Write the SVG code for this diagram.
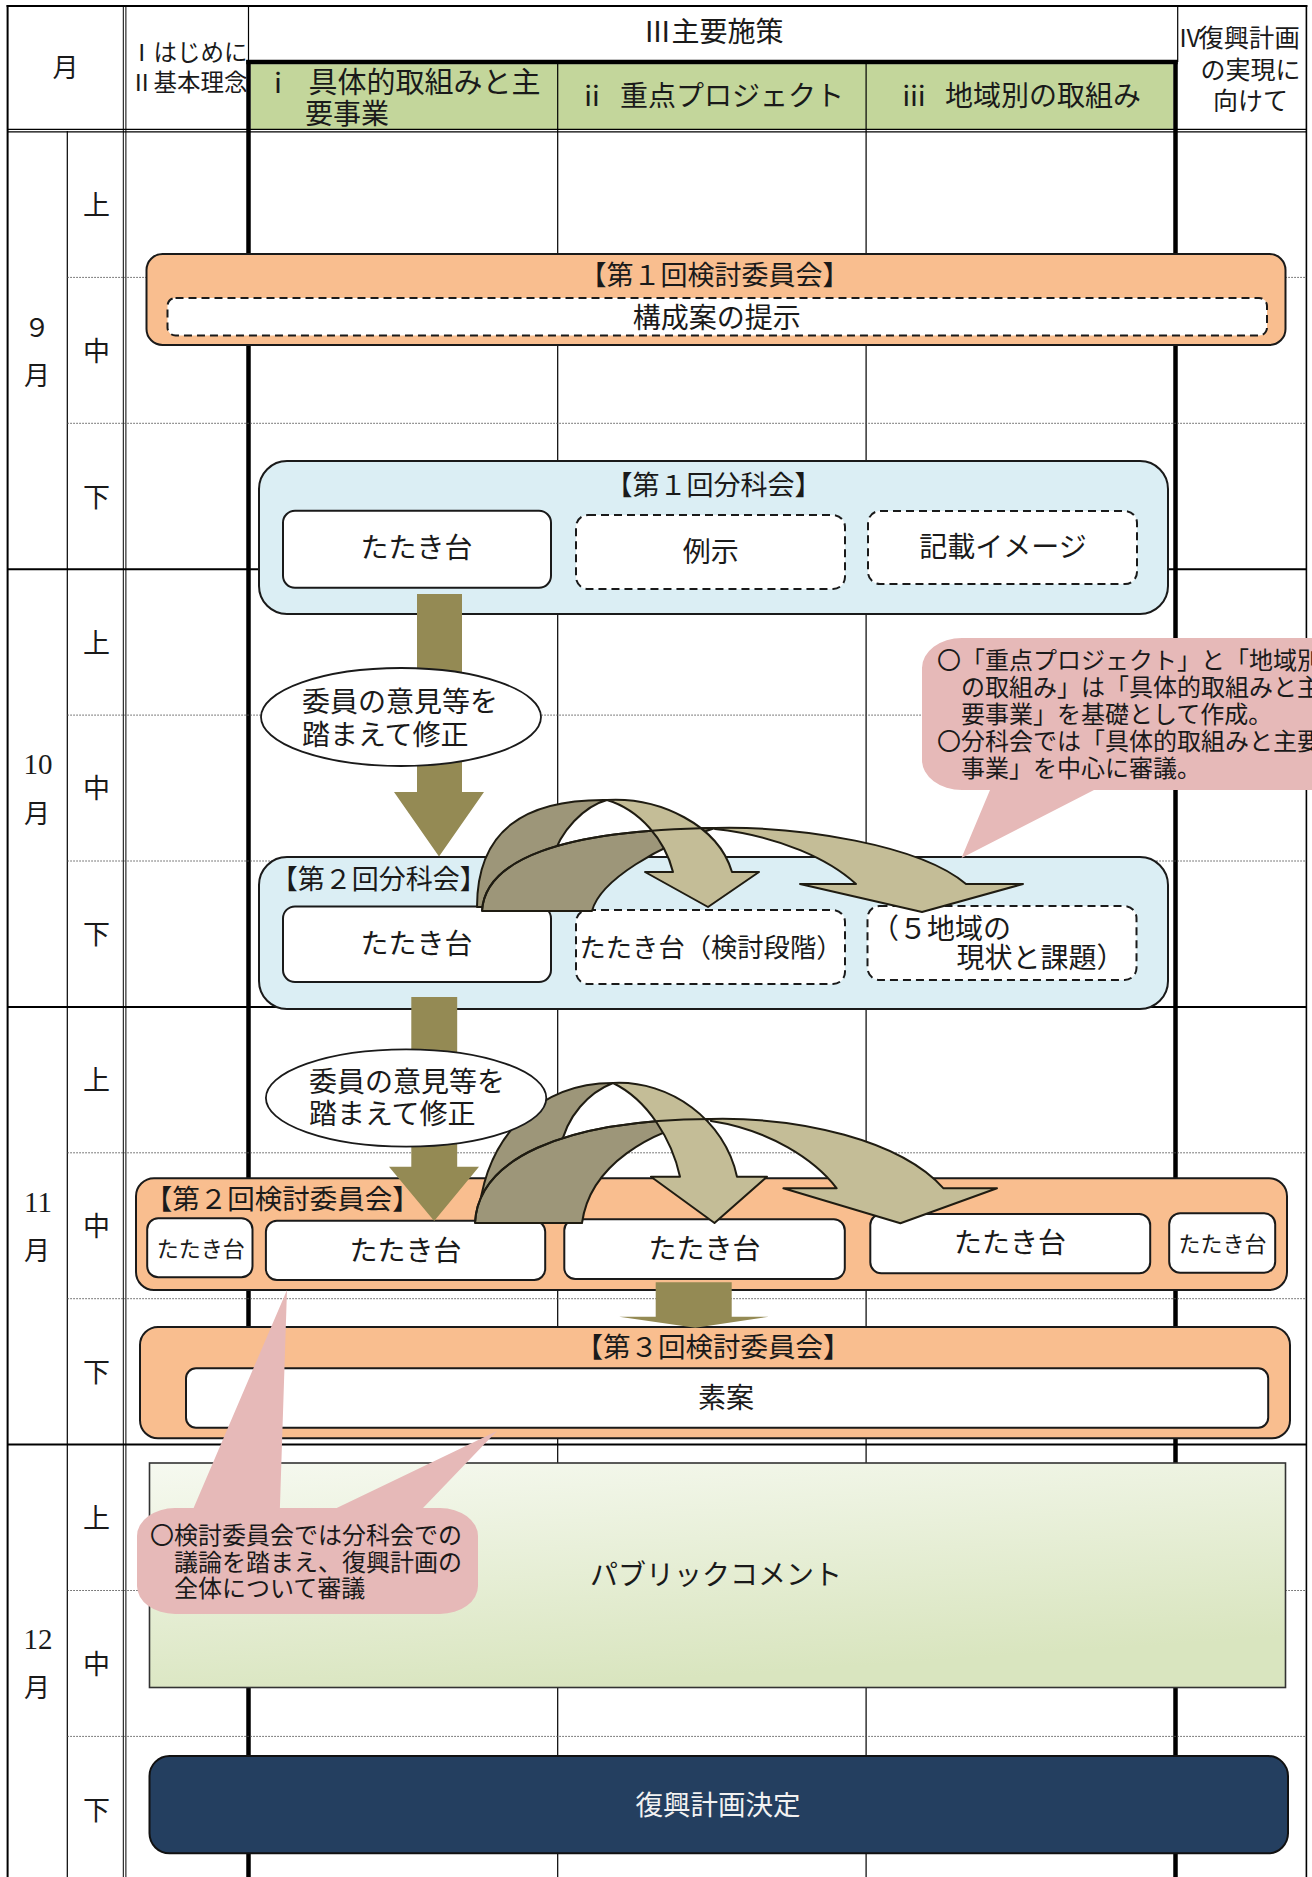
<svg xmlns="http://www.w3.org/2000/svg" width="1312" height="1877" viewBox="0 0 1312 1877">
<defs>
<style>
.t{font-family:"Noto Sans CJK JP","Noto Sans",sans-serif;fill:#1a1a1a}
.ser{font-family:"Liberation Serif","Noto Sans CJK JP",serif;fill:#1a1a1a}
.m{text-anchor:middle}
.ln{stroke:#000;stroke-width:1.2;fill:none}
.thk{stroke:#000;stroke-width:4.5;fill:none}
.mon{stroke:#000;stroke-width:2;fill:none}
.dot{stroke:#555;stroke-width:1;stroke-dasharray:1.5 1.5;fill:none}
.orange{fill:#f9be8f;stroke:#1a1a1a;stroke-width:2}
.blue{fill:#dbeef4;stroke:#1a1a1a;stroke-width:2}
.wbox{fill:#fff;stroke:#1a1a1a;stroke-width:2}
.dash{fill:#fff;stroke:#1a1a1a;stroke-width:2;stroke-dasharray:8 5}
.olive{fill:#948a54}
.cdark{fill:#9d9679;stroke:#1f1c12;stroke-width:2;stroke-linejoin:round}
.clight{fill:#c4bd97;stroke:#1f1c12;stroke-width:2;stroke-linejoin:round}
.cedge{fill:none;stroke:#1f1c12;stroke-width:2}
.pink{fill:#e6b9b8}
.ell{fill:#fff;stroke:#1a1a1a;stroke-width:1.8}
</style>
<linearGradient id="pcg" x1="0" y1="0" x2="0.35" y2="1">
<stop offset="0" stop-color="#f6f9f0"/>
<stop offset="1" stop-color="#d9e5bf"/>
</linearGradient>
</defs>
<rect width="1312" height="1877" fill="#fff"/>

<g id="grid">
<rect x="250.7" y="64.2" width="922.6" height="65" fill="#c3d69b"/>
<line class="mon" x1="6.6" y1="6" x2="1307.4" y2="6"/>
<line class="mon" x1="7.6" y1="5" x2="7.6" y2="1877"/>
<line class="ln" x1="1306.4" y1="5" x2="1306.4" y2="1877" style="stroke-width:1.6"/>
<line class="ln" x1="123.3" y1="6" x2="123.3" y2="1877" style="stroke-width:1"/>
<line class="ln" x1="125.9" y1="6" x2="125.9" y2="1877" style="stroke-width:1"/>
<line class="ln" x1="67.3" y1="131" x2="67.3" y2="1877"/>
<line class="ln" x1="248.5" y1="6" x2="248.5" y2="62"/>
<line class="thk" x1="248.5" y1="60" x2="248.5" y2="1877"/>
<line class="ln" x1="557.7" y1="62" x2="557.7" y2="1877"/>
<line class="ln" x1="866.1" y1="62" x2="866.1" y2="1877"/>
<line class="ln" x1="1177.7" y1="6" x2="1177.7" y2="62"/>
<line class="thk" x1="1175.5" y1="60" x2="1175.5" y2="1877"/>
<line class="thk" x1="246.3" y1="62" x2="1177.7" y2="62"/>
<line class="ln" x1="7.6" y1="129.3" x2="1306.4" y2="129.3"/>
<line class="ln" x1="7.6" y1="131.9" x2="1306.4" y2="131.9"/>
<line class="mon" x1="7.6" y1="569.2" x2="1306.4" y2="569.2"/>
<line class="mon" x1="7.6" y1="1006.9" x2="1306.4" y2="1006.9"/>
<line class="mon" x1="7.6" y1="1444.6" x2="1306.4" y2="1444.6"/>
<line class="dot" x1="67.3" y1="277.4" x2="1306.4" y2="277.4"/>
<line class="dot" x1="67.3" y1="423.3" x2="1306.4" y2="423.3"/>
<line class="dot" x1="67.3" y1="715.1" x2="1306.4" y2="715.1"/>
<line class="dot" x1="67.3" y1="861" x2="1306.4" y2="861"/>
<line class="dot" x1="67.3" y1="1152.8" x2="1306.4" y2="1152.8"/>
<line class="dot" x1="67.3" y1="1298.7" x2="1306.4" y2="1298.7"/>
<line class="dot" x1="67.3" y1="1590.5" x2="1306.4" y2="1590.5"/>
<line class="dot" x1="67.3" y1="1736.4" x2="1306.4" y2="1736.4"/>
</g>

<g id="header">
<text class="t m" x="65.5" y="76.6" font-size="26">月</text>
<text class="t" x="130" y="60.6" font-size="23.5">Ⅰはじめに</text>
<text class="t" x="130" y="91.4" font-size="23.5">Ⅱ基本理念</text>
<text class="t m" x="713.5" y="41.6" font-size="28">Ⅲ主要施策</text>
<text class="t m" x="278" y="92.6" font-size="28">ⅰ</text>
<text class="t" x="308.5" y="92.6" font-size="29">具体的取組みと主</text>
<text class="t" x="305" y="124" font-size="28">要事業</text>
<text class="t m" x="592" y="105.6" font-size="28">ⅱ</text>
<text class="t" x="620" y="105.6" font-size="28">重点プロジェクト</text>
<text class="t m" x="914" y="105.6" font-size="28">ⅲ</text>
<text class="t" x="945" y="105.6" font-size="28">地域別の取組み</text>
<text class="t m" x="1190" y="46.5" font-size="24">Ⅳ</text>
<text class="t" x="1198.5" y="46.5" font-size="25.3">復興計画</text>
<text class="t m" x="1250.5" y="79" font-size="25">の実現に</text>
<text class="t m" x="1250.5" y="109.5" font-size="25">向けて</text>
</g>

<g id="time-labels">
<text class="t m" x="37" y="337.4" font-size="26">９</text>
<text class="t m" x="37" y="384.6" font-size="26">月</text>
<text class="ser m" x="38" y="774" font-size="29">10</text>
<text class="t m" x="37" y="822.9" font-size="26">月</text>
<text class="ser m" x="38" y="1212" font-size="29">11</text>
<text class="t m" x="37" y="1260" font-size="26">月</text>
<text class="ser m" x="38" y="1649" font-size="29">12</text>
<text class="t m" x="37" y="1697.4" font-size="26">月</text>
<text class="t m" x="96.4" y="214.8" font-size="27">上</text>
<text class="t m" x="96.4" y="360.7" font-size="27">中</text>
<text class="t m" x="96.4" y="506.6" font-size="27">下</text>
<text class="t m" x="96.4" y="652.5" font-size="27">上</text>
<text class="t m" x="96.4" y="798.4" font-size="27">中</text>
<text class="t m" x="96.4" y="944.3" font-size="27">下</text>
<text class="t m" x="96.4" y="1090.2" font-size="27">上</text>
<text class="t m" x="96.4" y="1236.1" font-size="27">中</text>
<text class="t m" x="96.4" y="1382" font-size="27">下</text>
<text class="t m" x="96.4" y="1527.9" font-size="27">上</text>
<text class="t m" x="96.4" y="1673.8" font-size="27">中</text>
<text class="t m" x="96.4" y="1819.7" font-size="27">下</text>
</g>

<g id="kentou1">
<rect class="orange" x="146.5" y="254" width="1139" height="91" rx="16"/>
<text class="t m" x="714.5" y="285.3" font-size="27">【第１回検討委員会】</text>
<rect class="dash" x="167.5" y="298" width="1099.5" height="37.5" rx="8"/>
<text class="t m" x="716.7" y="327.6" font-size="28">構成案の提示</text>
</g>

<g id="bunka1">
<rect class="blue" x="259" y="461" width="909" height="153" rx="28"/>
<text class="t m" x="713.5" y="494.5" font-size="27">【第１回分科会】</text>
<rect class="wbox" x="283" y="510.7" width="268" height="77" rx="12"/>
<text class="t m" x="416.6" y="557.9" font-size="28">たたき台</text>
<rect class="dash" x="576" y="515" width="269" height="74" rx="12"/>
<text class="t m" x="710.8" y="561.6" font-size="28">例示</text>
<rect class="dash" x="868" y="511" width="269" height="73" rx="12"/>
<text class="t m" x="1003" y="556.6" font-size="28">記載イメージ</text>
</g>

<g id="bunka2">
<rect class="blue" x="259" y="857" width="909" height="152" rx="28"/>
<text class="t m" x="378.7" y="888.9" font-size="27">【第２回分科会】</text>
<rect class="wbox" x="283" y="906.4" width="268" height="75.6" rx="12"/>
<text class="t m" x="416.6" y="953.5" font-size="28">たたき台</text>
<rect class="dash" x="576" y="910" width="269" height="74" rx="12"/>
<text class="t m" x="711" y="957.2" font-size="26.3">たたき台（検討段階）</text>
<rect class="dash" x="867.5" y="906" width="269" height="74" rx="12"/>
<text class="t" x="871" y="938.9" font-size="28">（５地域の</text>
<text class="t" x="956.6" y="968.1" font-size="28">現状と課題）</text>
</g>

<g id="kentou2">
<rect class="orange" x="136" y="1178.3" width="1151" height="111.7" rx="18"/>
<text class="t m" x="282.2" y="1208.8" font-size="27.5">【第２回検討委員会】</text>
<rect class="wbox" x="147.2" y="1218.3" width="105.3" height="59" rx="11"/>
<text class="t m" x="200.8" y="1256.7" font-size="22">たたき台</text>
<rect class="wbox" x="265.9" y="1220.7" width="279.3" height="59.3" rx="11"/>
<text class="t m" x="405.6" y="1260.6" font-size="28">たたき台</text>
<rect class="wbox" x="564.3" y="1219.3" width="280.5" height="59.7" rx="11"/>
<text class="t m" x="704.6" y="1258.6" font-size="28">たたき台</text>
<rect class="wbox" x="870.3" y="1214" width="279.9" height="59.3" rx="11"/>
<text class="t m" x="1010" y="1253.3" font-size="28">たたき台</text>
<rect class="wbox" x="1169.2" y="1213.3" width="106" height="59.4" rx="11"/>
<text class="t m" x="1222.5" y="1251.7" font-size="22">たたき台</text>
</g>

<g id="kentou3">
<rect class="orange" x="140" y="1327" width="1150" height="111.3" rx="18"/>
<text class="t m" x="713" y="1357.2" font-size="27.5">【第３回検討委員会】</text>
<rect class="wbox" x="186" y="1368.3" width="1082.2" height="59.4" rx="10"/>
<text class="t m" x="726" y="1407.9" font-size="28">素案</text>
</g>

<g id="public-comment">
<rect x="149.5" y="1463" width="1136" height="224.5" fill="url(#pcg)" stroke="#333" stroke-width="1.6"/>
<text class="t m" x="716" y="1584.6" font-size="28">パブリックコメント</text>
</g>

<g id="decision">
<rect x="149.5" y="1756" width="1138.5" height="97.3" rx="20" fill="#243f60" stroke="#111" stroke-width="2"/>
<text class="t m" x="718" y="1814.5" font-size="27.5" style="fill:#f2f2f2">復興計画決定</text>
</g>

<g id="connectors">
<polygon class="olive" points="417,594 462,594 462,792 484,792 439,856.5 394,792 417,792"/>
<polygon class="olive" points="411.3,997 457.2,997 457.2,1166.7 479,1166.7 434.2,1221 389,1166.7 411.3,1166.7"/>
<polygon class="olive" points="655.7,1282.3 731.7,1282.3 731.7,1316.7 768.7,1316.7 695.3,1327.7 619.2,1316.7 655.7,1316.7"/>
<path class="cdark" d="M477,907 C477,830 525,799 607,800 C585,806 560,830 552,860 L548,907 Z"/>
<path class="cdark" d="M482,911 C485,860 560,830 715,828 C660,845 600,880 592,911 Z"/>
<path class="clight" d="M607,800 C660,797 718,825 732,872 L759,872 L708,907 L645,872 L673,872 C665,840 640,810 607,800 Z"/>
<path class="clight" d="M715,828 C800,826 920,845 966,884 L1023,884 L922,912 L800,884 L856,884 C830,860 780,836 715,829 Z"/>
<path class="cedge" d="M482,911 C485,860 560,830 715,828"/>
<path class="cdark" d="M478,1221 C484,1135 540,1083 613,1083 C590,1092 566,1115 560,1150 L556,1221 Z"/>
<path class="cdark" d="M475,1223 C478,1160 560,1120 711,1119 C650,1130 590,1165 582,1223 Z"/>
<path class="clight" d="M613,1083 C670,1080 725,1120 737,1176.7 L767,1176.7 L714.5,1223 L651,1176.7 L680,1176.7 C672,1140 648,1100 613,1083 Z"/>
<path class="clight" d="M711,1119 C800,1117 900,1140 943.5,1188.3 L997,1188.3 L900.4,1223.3 L783.4,1188.3 L836.7,1188.3 C815,1160 770,1130 711,1121 Z"/>
<path class="cedge" d="M475,1223 C478,1160 560,1120 711,1119"/>
</g>

<g id="note-revise1">
<ellipse class="ell" cx="401" cy="717" rx="140" ry="49"/>
<text class="t" x="302" y="712.4" font-size="28">委員の意見等を</text>
<text class="t" x="302" y="744.6" font-size="28">踏まえて修正</text>
</g>

<g id="note-revise2">
<ellipse class="ell" cx="406.1" cy="1098" rx="140.2" ry="48.7"/>
<text class="t" x="309" y="1092.3" font-size="28">委員の意見等を</text>
<text class="t" x="309" y="1123.9" font-size="28">踏まえて修正</text>
</g>

<g id="callout1">
<path class="pink" d="M962,638 H1340 V790 H1094 L961.5,858 L990,790 H962 A40,30 0 0 1 922,760 V668 A40,30 0 0 1 962,638 Z"/>
<text class="t" x="937" y="668.6" font-size="24">〇「重点プロジェクト」と「地域別</text>
<text class="t" x="961" y="695.6" font-size="24">の取組み」は「具体的取組みと主</text>
<text class="t" x="961" y="722.6" font-size="24">要事業」を基礎として作成。</text>
<text class="t" x="937" y="749.6" font-size="24">〇分科会では「具体的取組みと主要</text>
<text class="t" x="961" y="776.6" font-size="24">事業」を中心に審議。</text>
</g>

<g id="callout2">
<path class="pink" d="M175,1508 L193.6,1508 L287,1290 L279.9,1508 L336.7,1508 L497,1431 L423,1508 L440,1508 A38,28 0 0 1 478,1536 V1586 A38,28 0 0 1 440,1614 H175 A38,28 0 0 1 137,1586 V1536 A38,28 0 0 1 175,1508 Z"/>
<text class="t" x="150" y="1544.1" font-size="24">〇検討委員会では分科会での</text>
<text class="t" x="174" y="1570.8" font-size="24">議論を踏まえ、復興計画の</text>
<text class="t" x="174" y="1597.1" font-size="24">全体について審議</text>
</g>
</svg>
